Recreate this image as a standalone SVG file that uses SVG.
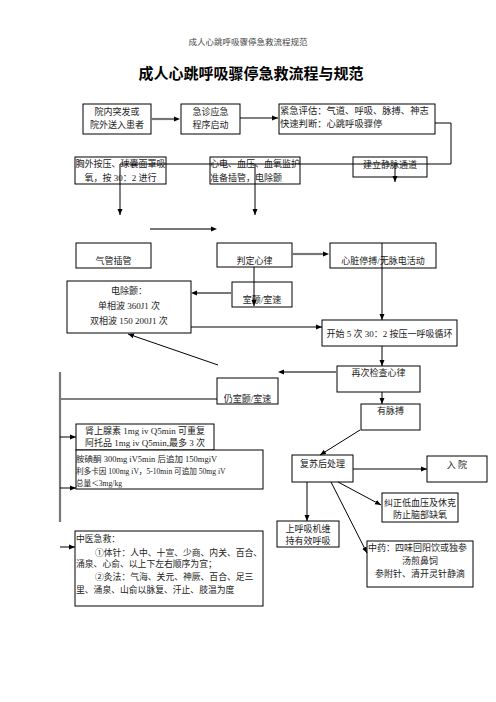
<svg xmlns="http://www.w3.org/2000/svg" width="496" height="702" viewBox="0 0 496 702">
<defs>
<marker id="ah" markerUnits="userSpaceOnUse" markerWidth="6" markerHeight="6" viewBox="0 0 6 6" refX="6" refY="3" orient="auto"><path d="M0,0.5 L6,3 L0,5.5 Z" fill="#000"/></marker>
<style>
text{font-family:"Liberation Serif","Noto Sans CJK SC",serif;font-size:9px;fill:#222}
.c{text-anchor:middle}
.box rect{fill:#fff;stroke:#000;stroke-width:1}
.k{stroke:#000;stroke-width:1;fill:none}
.g{stroke:#777;stroke-width:2.2;fill:none}
.s{font-size:8px}
</style>
</defs>
<rect width="496" height="702" fill="#fff"/>
<text x="248" y="45" class="c" style="font-size:8.5px;fill:#444">成人心跳呼吸骤停急救流程规范</text>
<text x="251" y="79" class="c" style="font-size:15px;font-weight:bold;fill:#000">成人心跳呼吸骤停急救流程与规范</text>

<g id="n1" class="box"><rect x="83" y="104" width="68" height="30"/><text x="117" y="115" class="c">院内突发或</text><text x="117" y="128" class="c">院外送入患者</text></g>
<g id="n2" class="box"><rect x="181" y="104" width="59" height="30"/><text x="210.5" y="115" class="c">急诊应急</text><text x="210.5" y="128" class="c">程序启动</text></g>
<g id="n3" class="box"><rect x="279" y="104" width="156" height="30"/><text x="280" y="114" style="font-size:9.3px">紧急评估：气道、呼吸、脉搏、神志</text><text x="280" y="127" style="font-size:9.3px">快速判断：心跳呼吸骤停</text></g>

<g id="n4" class="box"><rect x="75" y="157" width="91" height="27"/><text x="120.5" y="166.5" class="c">胸外按压、球囊面罩吸</text><text x="120.5" y="180.5" class="c">氧，按 30：2 进行</text></g>
<g id="n5" class="box"><rect x="210" y="157" width="90" height="27"/><text x="210" y="166.5">心电、血压、血氧监护</text><text x="210" y="180.5">准备插管，电除颤</text></g>
<g id="n6" class="box"><rect x="353" y="157" width="74" height="20"/><text x="390" y="167.5" class="c">建立静脉通道</text></g>

<g id="n7" class="box"><rect x="76" y="243" width="75" height="25"/><text x="113.5" y="264" class="c">气管插管</text></g>
<g id="n8" class="box"><rect x="217" y="243" width="75" height="24"/><text x="254.5" y="264" class="c">判定心律</text></g>
<g id="n9" class="box"><rect x="330" y="243" width="106" height="25"/><text x="383" y="264" class="c">心脏停搏/无脉电活动</text></g>

<g id="n10" class="box"><rect x="67" y="281" width="124" height="52"/><text x="129" y="294" class="c">电除颤：</text><text x="129" y="308.5" class="c">单相波 360J1 次</text><text x="129" y="323.5" class="c">双相波 150 200J1 次</text></g>
<g id="n11" class="box"><rect x="232" y="282" width="60" height="25"/><text x="262" y="303" class="c">室颤/室速</text></g>
<g id="n12" class="box"><rect x="322" y="320" width="135" height="26"/><text x="389.5" y="337" class="c">开始 5 次 30：2 按压一呼吸循环</text></g>

<g id="n13" class="box"><rect x="337" y="366" width="83" height="26"/><text x="378.5" y="375.5" class="c">再次检查心律</text></g>
<g id="n14" class="box"><rect x="217" y="378" width="61" height="26"/><text x="247.5" y="402" class="c">仍室颤/室速</text></g>
<g id="n15" class="box"><rect x="361" y="404" width="59" height="26"/><text x="390.5" y="414" class="c">有脉搏</text></g>

<g id="n16" class="box"><rect x="76" y="424" width="138" height="26"/><text x="145" y="434" class="c">肾上腺素 1mg iv Q5min 可重复</text><text x="145" y="446" class="c">阿托品 1mg iv Q5min,最多 3 次</text></g>
<g id="n17" class="box"><rect x="76" y="450" width="187" height="39"/><text x="76" y="461.5" style="font-size:8.5px">胺碘酮 300mg iV5min 后追加 150mgiV</text><text x="76" y="473.5" style="font-size:7.6px">利多卡因 100mg iV，5-10min 可追加 50mg iV</text><text x="76" y="486" style="font-size:7.6px">总量＜3mg/kg</text></g>

<g id="n18" class="box"><rect x="292" y="455" width="61" height="27"/><text x="322.5" y="466.5" class="c">复苏后处理</text></g>
<g id="n19" class="box"><rect x="427" y="456" width="60" height="26"/><text x="457" y="468" class="c">入 院</text></g>
<g id="n20" class="box"><rect x="382" y="493" width="76" height="29"/><text x="420" y="505.5" class="c">纠正低血压及休克</text><text x="420" y="518" class="c">防止脑部缺氧</text></g>
<g id="n21" class="box"><rect x="277" y="521" width="62" height="26"/><text x="308" y="531.5" class="c">上呼吸机维</text><text x="308" y="544" class="c">持有效呼吸</text></g>
<g id="n22" class="box"><rect x="75" y="531" width="188" height="75"/><text x="76" y="541.5" style="font-size:8.8px">中医急救：</text><text x="95" y="556" style="font-size:8.8px">①体针：人中、十宣、少商、内关、百合、</text><text x="76" y="567" style="font-size:8.8px">涌泉、心俞、以上下左右顺序为宜；</text><text x="95" y="580" style="font-size:8.8px">②灸法：气海、关元、神厥、百合、足三</text><text x="76" y="592.5" style="font-size:8.8px">里、涌泉、山俞以脉复、汗止、肢温为度</text></g>
<g id="n23" class="box"><rect x="367" y="541" width="106" height="46"/><text x="368" y="550.5">中药：四味回阳饮或独参</text><text x="420" y="563.5" class="c">汤煎鼻饲</text><text x="420" y="576.5" class="c">参附针、清开灵针静滴</text></g>

<g id="connectors">
<line class="g" x1="151" y1="119" x2="175" y2="119"/><path d="M174,116.5 L180,119 L174,121.5 Z"/>
<line class="k" x1="240" y1="118" x2="278" y2="118" marker-end="url(#ah)"/>
<polyline class="k" points="435,123 451,123 451,164 120,164"/>
<line class="k" x1="120" y1="164" x2="120" y2="215" marker-end="url(#ah)"/>
<line class="k" x1="255" y1="164" x2="255" y2="215" marker-end="url(#ah)"/>
<line class="k" x1="395" y1="164" x2="395" y2="182" marker-end="url(#ah)"/>
<line class="g" x1="150" y1="229" x2="212" y2="229"/><path d="M211,226.5 L217,229 L211,231.5 Z"/>
<line class="g" x1="292" y1="254" x2="324" y2="254"/><path d="M323,251.5 L329,254 L323,256.5 Z"/>
<line class="k" x1="382" y1="243" x2="382" y2="320" marker-end="url(#ah)"/>
<line class="k" x1="254" y1="267" x2="254" y2="306" marker-end="url(#ah)"/>
<line class="g" x1="232" y1="293" x2="196" y2="293"/><path d="M197,290.5 L191,293 L197,295.5 Z"/>
<line class="k" x1="191" y1="327" x2="322" y2="327" marker-end="url(#ah)"/>
<line class="k" x1="218" y1="365" x2="128" y2="334" marker-end="url(#ah)"/>
<line class="k" x1="382" y1="346" x2="382" y2="366" marker-end="url(#ah)"/>
<line class="g" x1="337" y1="372" x2="283" y2="372"/><path d="M284,369.5 L278,372 L284,374.5 Z"/>
<line class="k" x1="382" y1="392" x2="382" y2="404" marker-end="url(#ah)"/>
<line class="k" x1="217" y1="399" x2="60" y2="399"/>
<line class="g" x1="60" y1="372" x2="60" y2="522"/>
<line class="k" x1="60" y1="437" x2="76" y2="437" marker-end="url(#ah)"/>
<line class="k" x1="60" y1="488" x2="76" y2="488" marker-end="url(#ah)"/>
<line class="k" x1="60" y1="547" x2="75" y2="547" marker-end="url(#ah)"/>
<line class="k" x1="360" y1="430" x2="320" y2="455" marker-end="url(#ah)"/>
<line class="k" x1="353" y1="469" x2="427" y2="469" marker-end="url(#ah)"/>
<line class="k" x1="307" y1="482" x2="307" y2="521" marker-end="url(#ah)"/>
<line class="k" x1="338" y1="482" x2="381" y2="505" marker-end="url(#ah)"/>
<line class="k" x1="331" y1="482" x2="367" y2="553" marker-end="url(#ah)"/>
</g>
</svg>
